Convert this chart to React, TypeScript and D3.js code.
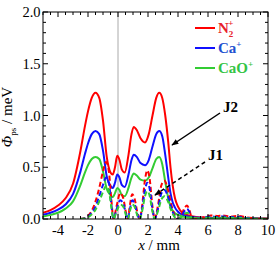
import React from 'react';
import * as d3 from 'd3';

// solid curves (J2)
const xSolid = [-5, -4.5, -4, -3.5, -3, -2.5, -2.2, -2, -1.75, -1.5, -1.25, -1, -0.75, -0.5, -0.35, -0.2, -0.05, 0.1, 0.25, 0.45, 0.7, 0.9, 1.05, 1.25, 1.5, 1.8, 2.05, 2.3, 2.55, 2.75, 2.95, 3.15, 3.35, 3.5, 3.65, 3.8, 4.0, 4.3, 4.7, 5.2, 6, 7, 8, 9, 10];
const n2Solid = [0.06, 0.085, 0.13, 0.2, 0.34, 0.66, 0.9, 1.04, 1.17, 1.22, 1.17, 0.95, 0.6, 0.45, 0.43, 0.5, 0.61, 0.57, 0.48, 0.45, 0.62, 0.82, 0.89, 0.86, 0.78, 0.74, 0.82, 1.0, 1.17, 1.22, 1.17, 1.0, 0.74, 0.5, 0.32, 0.2, 0.12, 0.06, 0.035, 0.02, 0.012, 0.01, 0.01, 0.006, 0.004];
const caSolid = [0.04, 0.06, 0.09, 0.14, 0.24, 0.46, 0.63, 0.73, 0.82, 0.85, 0.82, 0.66, 0.41, 0.32, 0.3, 0.35, 0.43, 0.4, 0.33, 0.31, 0.43, 0.57, 0.62, 0.6, 0.54, 0.52, 0.57, 0.7, 0.82, 0.85, 0.8, 0.62, 0.4, 0.25, 0.16, 0.11, 0.07, 0.04, 0.025, 0.015, 0.01, 0.008, 0.008, 0.005, 0.003];
const caoSolid = [0.025, 0.04, 0.06, 0.1, 0.17, 0.33, 0.45, 0.52, 0.58, 0.6, 0.58, 0.46, 0.29, 0.23, 0.21, 0.25, 0.3, 0.28, 0.23, 0.22, 0.3, 0.4, 0.44, 0.42, 0.38, 0.37, 0.4, 0.49, 0.58, 0.6, 0.53, 0.36, 0.2, 0.12, 0.08, 0.055, 0.04, 0.025, 0.015, 0.01, 0.006, 0.005, 0.005, 0.003, 0.002];

// dashed curves (J1)
const xDash = [-2.5, -2.2, -2.0, -1.75, -1.5, -1.25, -1.0, -0.8, -0.6, -0.45, -0.3, -0.1, 0.15, 0.35, 0.55, 0.65, 0.8, 0.95, 1.1, 1.3, 1.45, 1.6, 1.8, 1.95, 2.1, 2.3, 2.45, 2.65, 2.9, 3.1, 3.3, 3.55, 3.8, 4.0, 4.2, 4.45, 4.6, 4.75, 4.9, 5.05, 5.4, 5.8, 6.2, 6.6, 7.0, 7.5, 8.0, 8.6, 9.2, 10];
const n2Dash = [0, 0.01, 0.03, 0.08, 0.17, 0.3, 0.46, 0.55, 0.45, 0.2, 0, 0.12, 0.25, 0.2, 0.05, 0, 0.14, 0.24, 0.2, 0.06, 0, 0.12, 0.38, 0.47, 0.4, 0.12, 0, 0.12, 0.33, 0.37, 0.3, 0.14, 0.03, 0, 0.03, 0.11, 0.13, 0.09, 0.02, 0, 0.005, 0.02, 0.035, 0.03, 0.035, 0.025, 0.03, 0.015, 0.005, 0];
const caDash = [0, 0.007, 0.02, 0.06, 0.12, 0.22, 0.33, 0.4, 0.34, 0.15, 0, 0.09, 0.18, 0.15, 0.04, 0, 0.1, 0.18, 0.15, 0.04, 0, 0.09, 0.28, 0.35, 0.3, 0.09, 0, 0.09, 0.25, 0.28, 0.23, 0.11, 0.02, 0, 0.02, 0.08, 0.1, 0.07, 0.015, 0, 0.003, 0.015, 0.025, 0.02, 0.025, 0.018, 0.02, 0.01, 0.003, 0];
const caoDash = [0, 0.005, 0.016, 0.045, 0.09, 0.17, 0.26, 0.32, 0.27, 0.12, 0, 0.07, 0.14, 0.12, 0.03, 0, 0.08, 0.14, 0.12, 0.03, 0, 0.07, 0.22, 0.27, 0.23, 0.07, 0, 0.07, 0.19, 0.22, 0.18, 0.08, 0.015, 0, 0.015, 0.05, 0.06, 0.045, 0.01, 0, 0.002, 0.01, 0.015, 0.012, 0.015, 0.01, 0.012, 0.006, 0.002, 0];

const xTicks = [-4, -2, 0, 2, 4, 6, 8, 10];
const yTicks = [0, 0.5, 1.0, 1.5, 2.0];

const colors = { n2: '#ff0000', ca: '#1010ff', cao: '#33cc33' };

const W = 279, H = 256;
const m = { left: 43, right: 11, top: 12, bottom: 37 };
const font = "'Liberation Serif', 'Times New Roman', Times, serif";

export default function App() {
  const x = d3.scaleLinear().domain([-5, 10]).range([m.left, W - m.right]);
  const y = d3.scaleLinear().domain([0, 2]).range([H - m.bottom, m.top]);

  const line = (xs: number[], ys: number[]) =>
    d3.line<number>()
      .x((d, i) => x(xs[i]))
      .y(d => y(d))
      .curve(d3.curveMonotoneX)(ys) || '';

  const series = [
    { c: colors.n2, s: n2Solid, d: n2Dash },
    { c: colors.ca, s: caSolid, d: caDash },
    { c: colors.cao, s: caoSolid, d: caoDash },
  ];

  const minorX = d3.range(-5, 10.01, 0.5);
  const minorY = d3.range(0, 2.001, 0.1);
  const x0 = m.left, x1 = W - m.right, y0 = H - m.bottom, y1 = m.top;

  const legend = [
    { c: colors.n2, t: '#e8202a', label: 'N', sub: '2' },
    { c: colors.ca, t: '#2050d0', label: 'Ca', sub: '' },
    { c: colors.cao, t: '#33c444', label: 'CaO', sub: '' },
  ];

  return (
    <svg width={W} height={H} style={{ position: 'absolute', left: 0, top: 0, fontFamily: font }}>
      <defs>
        <clipPath id="plot">
          <rect x={x0} y={y1} width={x1 - x0} height={y0 - y1} />
        </clipPath>
        <marker id="ah" viewBox="0 0 10 10" refX="9" refY="5" markerWidth="7" markerHeight="7" orient="auto" markerUnits="userSpaceOnUse">
          <path d="M0,1 L10,5 L0,9 z" fill="#000" />
        </marker>
      </defs>

      <line x1={x(0)} x2={x(0)} y1={y1} y2={y0} stroke="#aaa" strokeWidth={1} />

      <g clipPath="url(#plot)" fill="none" strokeWidth={2}>
        {series.map((s, i) => (
          <path key={'s' + i} d={line(xSolid, s.s)} stroke={s.c} />
        ))}
        {series.map((s, i) => (
          <path key={'d' + i} d={line(xDash, s.d)} stroke={s.c} strokeDasharray="5,3" />
        ))}
      </g>

      {/* ticks */}
      {minorX.map((t, i) => {
        const major = Math.abs(t % 2) < 1e-6;
        const l = major ? 5 : 3;
        return (
          <g key={'tx' + i} stroke="#000" strokeWidth={1}>
            <line x1={x(t)} x2={x(t)} y1={y0} y2={y0 - l} />
            <line x1={x(t)} x2={x(t)} y1={y1} y2={y1 + l} />
          </g>
        );
      })}
      {minorY.map((t, i) => {
        const major = Math.abs((t * 10) % 5) < 1e-6;
        const l = major ? 5 : 3;
        return (
          <g key={'ty' + i} stroke="#000" strokeWidth={1}>
            <line x1={x0} x2={x0 + l} y1={y(t)} y2={y(t)} />
            <line x1={x1} x2={x1 - l} y1={y(t)} y2={y(t)} />
          </g>
        );
      })}
      <rect x={x0} y={y1} width={x1 - x0} height={y0 - y1} fill="none" stroke="#000" strokeWidth={1} />

      {xTicks.map(t => (
        <text key={'lx' + t} x={x(t)} y={235} textAnchor="middle" fontSize={14.5}>{t < 0 ? '-' + Math.abs(t) : t}</text>
      ))}
      {yTicks.map(t => (
        <text key={'ly' + t} x={40.5} y={y(t) + 5} textAnchor="end" fontSize={14.5}>{t.toFixed(1)}</text>
      ))}

      <text x={159} y={250} textAnchor="middle" fontSize={15}>
        <tspan fontStyle="italic">x</tspan> / mm
      </text>
      <text transform="translate(12,117) rotate(-90)" textAnchor="middle" fontSize={15}>
        <tspan fontStyle="italic">Φ</tspan>
        <tspan fontSize={9} dy={4}>ps</tspan>
        <tspan dy={-4}> / meV</tspan>
      </text>

      {/* legend */}
      {legend.map((l, i) => (
        <g key={'lg' + i}>
          <line x1={195} x2={215} y1={28 + i * 20} y2={28 + i * 20} stroke={l.c} strokeWidth={2} />
          <text x={218} y={33 + i * 20} fontSize={15} fontWeight="bold" fill={l.t}>
            {l.label}
            {l.sub ? (
              <>
                <tspan fontSize={9} dy={4}>{l.sub}</tspan>
                <tspan fontSize={9} dx={-5} dy={-11}>+</tspan>
              </>
            ) : (
              <tspan fontSize={9} dy={-6}>+</tspan>
            )}
          </text>
        </g>
      ))}

      {/* annotations */}
      <text x={223} y={112} fontSize={15} fontWeight="bold">J2</text>
      <line x1={220} y1={113} x2={172} y2={145} stroke="#000" strokeWidth={1.5} markerEnd="url(#ah)" />
      <text x={208} y={160} fontSize={15} fontWeight="bold">J1</text>
      <line x1={205} y1={162} x2={155} y2={195} stroke="#000" strokeWidth={1.5} strokeDasharray="4,3" markerEnd="url(#ah)" />
    </svg>
  );
}
